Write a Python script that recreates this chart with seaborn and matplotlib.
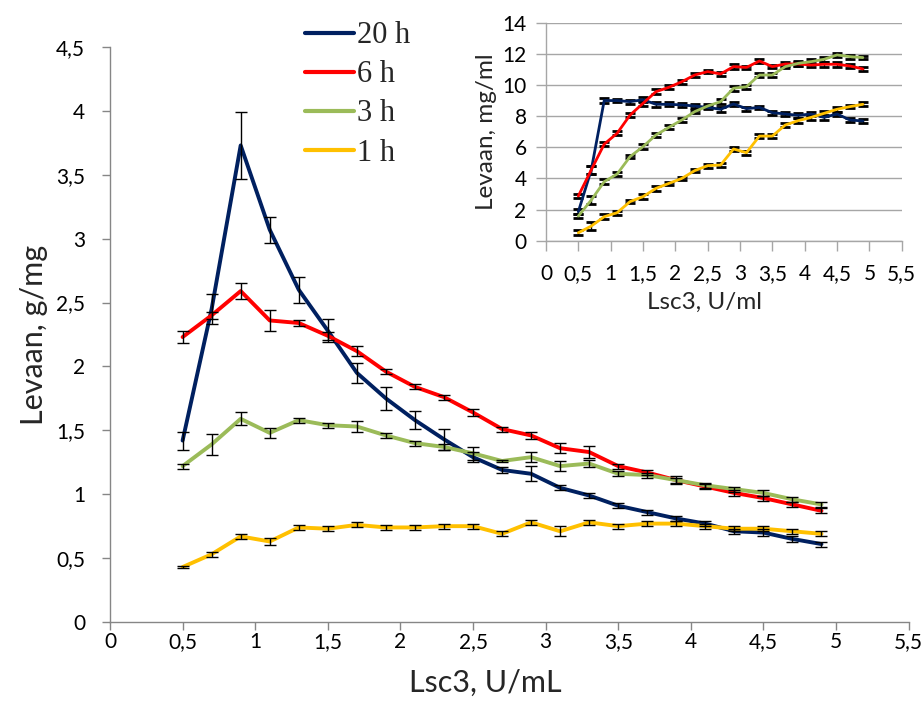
import matplotlib
matplotlib.use("Agg")
import matplotlib.pyplot as plt
import seaborn as sns
import pandas as pd
from matplotlib.ticker import FuncFormatter, MultipleLocator

# ---------------- data ----------------
x = [0.5, 0.7, 0.9, 1.1, 1.3, 1.5, 1.7, 1.9, 2.1, 2.3, 2.5, 2.7,
     2.9, 3.1, 3.3, 3.5, 3.7, 3.9, 4.1, 4.3, 4.5, 4.7, 4.9]

series_names = ["20 h", "6 h", "3 h", "1 h"]

# main chart: Levaan, g/mg
main_20h = [1.42, 2.45, 3.73, 3.07, 2.60, 2.28, 1.95, 1.75, 1.58, 1.43, 1.29, 1.19,
            1.16, 1.05, 0.99, 0.91, 0.86, 0.81, 0.77, 0.71, 0.70, 0.65, 0.61]
main_6h = [2.23, 2.40, 2.59, 2.36, 2.34, 2.24, 2.12, 1.96, 1.84, 1.76, 1.64, 1.51,
           1.46, 1.36, 1.33, 1.22, 1.17, 1.11, 1.06, 1.01, 0.97, 0.92, 0.87]
main_3h = [1.22, 1.39, 1.59, 1.48, 1.58, 1.54, 1.53, 1.46, 1.40, 1.37, 1.32, 1.26,
           1.29, 1.22, 1.24, 1.16, 1.15, 1.11, 1.07, 1.04, 1.01, 0.96, 0.92]
main_1h = [0.43, 0.53, 0.67, 0.63, 0.74, 0.73, 0.76, 0.74, 0.74, 0.75, 0.75, 0.69,
           0.78, 0.71, 0.78, 0.75, 0.77, 0.77, 0.75, 0.73, 0.73, 0.71, 0.69]

err_20h = [0.07, 0.12, 0.26, 0.10, 0.10, 0.09, 0.08, 0.09, 0.07, 0.08, 0.04, 0.02,
           0.06, 0.02, 0.02, 0.02, 0.02, 0.02, 0.02, 0.02, 0.03, 0.02, 0.02]
err_6h = [0.05, 0.03, 0.06, 0.08, 0.02, 0.03, 0.04, 0.02, 0.02, 0.02, 0.03, 0.02,
          0.03, 0.04, 0.05, 0.02, 0.02, 0.02, 0.02, 0.02, 0.02, 0.02, 0.02]
err_3h = [0.02, 0.08, 0.05, 0.04, 0.02, 0.02, 0.04, 0.02, 0.02, 0.02, 0.05, 0.01,
          0.04, 0.04, 0.03, 0.02, 0.02, 0.03, 0.02, 0.02, 0.02, 0.02, 0.02]
err_1h = [0.01, 0.02, 0.02, 0.03, 0.02, 0.02, 0.02, 0.02, 0.02, 0.02, 0.02, 0.02,
          0.02, 0.04, 0.02, 0.02, 0.02, 0.02, 0.02, 0.02, 0.02, 0.02, 0.02]

# inset chart: Levaan, mg/ml
ins_20h = [1.86, 4.55, 9.00, 9.00, 8.93, 9.05, 8.76, 8.76, 8.72, 8.65, 8.56, 8.44,
           8.78, 8.48, 8.56, 8.22, 8.14, 8.05, 8.14, 7.92, 8.14, 7.75, 7.69]
ins_6h = [2.87, 4.55, 6.20, 6.90, 8.07, 8.82, 9.57, 9.85, 10.21, 10.64, 10.86, 10.71,
          11.18, 11.13, 11.54, 11.18, 11.35, 11.35, 11.28, 11.33, 11.33, 11.22, 11.03]
ins_3h = [1.58, 2.61, 3.79, 4.28, 5.40, 6.04, 6.79, 7.28, 7.75, 8.29, 8.65, 8.93,
          9.79, 9.89, 10.64, 10.64, 11.18, 11.39, 11.50, 11.65, 11.93, 11.82, 11.76]
ins_1h = [0.51, 0.94, 1.54, 1.80, 2.51, 2.83, 3.36, 3.68, 4.00, 4.50, 4.82, 4.86,
          5.89, 5.65, 6.72, 6.72, 7.43, 7.71, 7.92, 8.18, 8.44, 8.61, 8.76]
ins_err = [0.15, 0.25, 0.15, 0.12, 0.12, 0.15, 0.15, 0.12, 0.12, 0.12, 0.12, 0.15,
           0.15, 0.12, 0.12, 0.12, 0.12, 0.15, 0.15, 0.15, 0.15, 0.12, 0.12]

colors = {"20 h": "#002060", "6 h": "#FF0000", "3 h": "#9BBB59", "1 h": "#FFC000"}

# ---------------- build frames ----------------
main_vals = {"20 h": main_20h, "6 h": main_6h, "3 h": main_3h, "1 h": main_1h}
main_errs = {"20 h": err_20h, "6 h": err_6h, "3 h": err_3h, "1 h": err_1h}
ins_vals = {"20 h": ins_20h, "6 h": ins_6h, "3 h": ins_3h, "1 h": ins_1h}

df_main = pd.concat([pd.DataFrame({"x": x, "y": main_vals[s], "series": s})
                     for s in series_names], ignore_index=True)
df_ins = pd.concat([pd.DataFrame({"x": x, "y": ins_vals[s], "series": s})
                    for s in series_names], ignore_index=True)

sns.set_theme(style="white")
plt.rcParams["font.family"] = ["Lato", "DejaVu Sans"]

fig = plt.figure(figsize=(9.24, 7.02), dpi=100)

comma = FuncFormatter(lambda v, p: ("%g" % round(v, 2)).replace(".", ","))
grey = "#868686"

# ---------------- main axes ----------------
ax = fig.add_axes([110 / 924, 80 / 702, (5.5 * 145.2) / 924, 575 / 702])
draw_order = ["1 h", "3 h", "6 h", "20 h"]
for s in draw_order:
    ax.errorbar(x, main_vals[s], yerr=main_errs[s], fmt="none", ecolor="black",
                elinewidth=1.0, capsize=4, capthick=1.0, zorder=3)
sns.lineplot(data=df_main, x="x", y="y", hue="series", hue_order=series_names,
             palette=colors, linewidth=2.8, ax=ax, legend=True, zorder=2)

ax.set_xlim(0, 5.5)
ax.set_ylim(0, 4.5)
ax.xaxis.set_major_locator(MultipleLocator(0.5))
ax.yaxis.set_major_locator(MultipleLocator(0.5))
ax.xaxis.set_major_formatter(comma)
ax.yaxis.set_major_formatter(comma)
for side in ["top", "right"]:
    ax.spines[side].set_visible(False)
for side in ["left", "bottom"]:
    ax.spines[side].set_color(grey)
    ax.spines[side].set_linewidth(1.0)
ax.tick_params(axis="both", direction="out", length=6, width=1.0, color=grey,
               labelsize=15, labelcolor="black", bottom=True, left=True)
ax.tick_params(axis="y", pad=12)
ax.tick_params(axis="x", pad=1)
ax.set_xlabel("Lsc3, U/mL", fontsize=22, labelpad=2)
ax.set_ylabel("Levaan, g/mg", fontsize=22, labelpad=6)
ax.xaxis.set_label_coords(0.47, -0.082)

handles, labels = ax.get_legend_handles_labels()
ax.legend(handles, labels, loc="upper left", bbox_to_anchor=(290 / 924, 1 - 6 / 702),
          bbox_transform=fig.transFigure, frameon=False,
          prop={"family": "Liberation Serif", "size": 22},
          handlelength=1.6, handletextpad=0.1, labelspacing=0.33, borderpad=0)
for line in ax.get_legend().get_lines():
    line.set_linewidth(3.0)

# ---------------- inset axes ----------------
axi = fig.add_axes([546 / 924, (702 - 240.7) / 702, 355.7 / 924, 218 / 702])
for s in draw_order:
    axi.errorbar(x, ins_vals[s], yerr=ins_err, fmt="none", ecolor="black",
                 elinewidth=1.0, capsize=3.5, capthick=2.0, zorder=3)
sns.lineplot(data=df_ins, x="x", y="y", hue="series", hue_order=series_names,
             palette=colors, linewidth=2.0, ax=axi, legend=False, zorder=4)
axi.set_xlim(0, 5.5)
axi.set_ylim(0, 14)
axi.xaxis.set_major_locator(MultipleLocator(0.5))
axi.yaxis.set_major_locator(MultipleLocator(2))
axi.xaxis.set_major_formatter(comma)
axi.yaxis.set_major_formatter(comma)
axi.grid(axis="y", color="#A6A6A6", linewidth=1.0)
axi.grid(axis="x", visible=False)
axi.set_axisbelow(True)
for side in ["top", "right"]:
    axi.spines[side].set_visible(False)
for side in ["left", "bottom"]:
    axi.spines[side].set_color("#A6A6A6")
    axi.spines[side].set_linewidth(1.0)
axi.tick_params(axis="both", direction="out", length=7, width=1.0, color="#A6A6A6",
                labelsize=15, labelcolor="black", bottom=True, left=True)
axi.tick_params(axis="y", pad=7)
axi.tick_params(axis="x", pad=10)
axi.set_xlabel("Lsc3, U/ml", fontsize=17.5, labelpad=6)
axi.set_ylabel("Levaan, mg/ml", fontsize=17.5, labelpad=4)
axi.xaxis.set_label_coords(0.447, -0.235)

fig.savefig("out.png", dpi=100)
